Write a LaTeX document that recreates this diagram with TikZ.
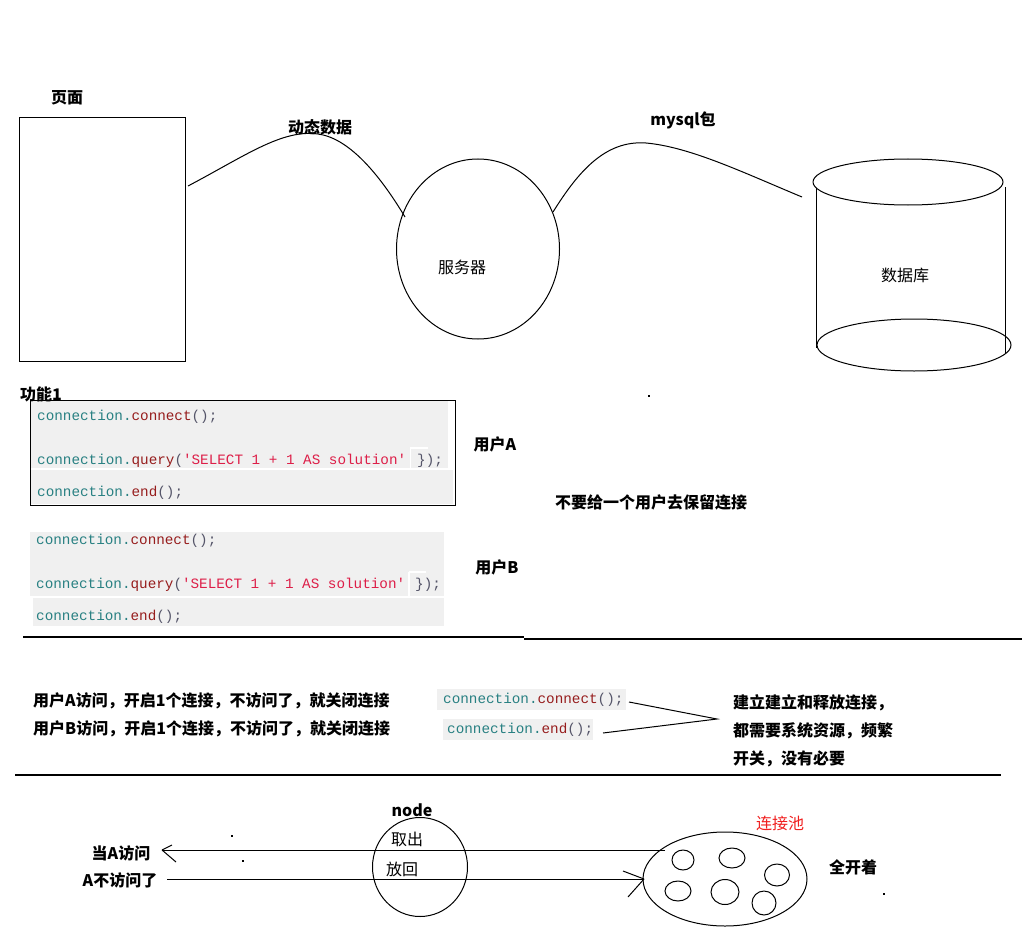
\documentclass[tikz,border=0pt]{standalone}
\usepackage{fontspec}
\setmonofont{Liberation Mono}
\newfontfamily\cjk{Noto Sans CJK SC}
\usetikzlibrary{shapes.geometric}

\definecolor{codebg}{RGB}{240,240,240}
\definecolor{codeid}{RGB}{40,128,130}
\definecolor{codefn}{RGB}{150,28,28}
\definecolor{codepu}{RGB}{85,85,105}
\definecolor{codestr}{RGB}{221,30,72}
\definecolor{poolred}{RGB}{240,30,30}

\newcommand\cdid[1]{\textcolor{codeid}{#1}}
\newcommand\cdfn[1]{\textcolor{codefn}{#1}}
\newcommand\cdpu[1]{\textcolor{codepu}{#1}}
\newcommand\cdstr[1]{\textcolor{codestr}{#1}}

\tikzset{
  lbl/.style={font=\cjk\fontsize{16}{18}\selectfont, inner sep=0pt},
  blbl/.style={font=\cjk\bfseries\fontsize{16}{18}\selectfont, inner sep=0pt},
  codetxt/.style={font=\ttfamily\fontsize{14.3}{16}\selectfont, inner sep=0pt, anchor=base west},
  stroke/.style={draw=black, line width=1pt},
  rule/.style={draw=black, line width=1.4pt},
  gap/.style={draw=white, line width=1.6pt},
  speck/.style={fill=black},
}

\begin{document}
\begin{tikzpicture}[x=1pt,y=-1pt]
\useasboundingbox (0,0) rectangle (1024,944);

% ---------- page / server / database ----------
\node[blbl] (pagelbl) at (67,98) {页面};
\node[stroke, rectangle, minimum width=166pt, minimum height=243pt, inner sep=0pt] (page) at (102,239.5) {};

\node[stroke, ellipse, minimum width=163pt, minimum height=180pt, inner sep=0pt] (server) at (478,249) {};
\node[lbl] (serverlbl) at (462,267) {服务器};

% database cylinder
\draw[stroke] (908,182) ellipse [x radius=95, y radius=23];
\draw[stroke] (914,345) ellipse [x radius=97, y radius=26];
\draw[stroke] (816,188) -- (816,348);
\draw[stroke] (1005,187) -- (1005,353);
\node[lbl] (dblbl) at (905,275) {数据库};

% connectors
\coordinate (c1s) at (188,186);
\coordinate (c1p) at (318,134);
\coordinate (c1e) at (405,217);
\draw[stroke] (c1s) .. controls (245,156) and (282,129) .. (c1p)
                    .. controls (348,138) and (378,172) .. (c1e);
\node[blbl] (dyn) at (320,127) {动态数据};

\coordinate (c2s) at (553,212);
\coordinate (c2p) at (646,143);
\coordinate (c2e) at (802,197);
\draw[stroke] (c2s) .. controls (578,172) and (605,140) .. (c2p)
                    .. controls (690,147) and (742,172) .. (c2e);
\node[blbl] (mysql) at (683,120) {mysql包};

\fill[speck] (648,395) rectangle (650,397);

% ---------- code block, user A ----------
\fill[codebg] (31,401) rectangle (448,468);
\fill[codebg] (31,470) rectangle (453,504);
\draw[gap] (410.5,448) -- (410.5,468);
\draw[gap] (410,448) -- (428,448);
\draw[gap] (45,469) -- (448,469);
\draw[stroke] (30,400) rectangle (455,505);
\node[blbl] (feat) at (41,394) {功能1};

\node[codetxt] (a1) at (37,420.5) {\cdid{connection.}\cdfn{connect}\cdpu{();}};
\node[codetxt] (a2) at (37,464.5) {\cdid{connection.}\cdfn{query}\cdpu{(}\cdstr{'SELECT 1 + 1 AS solution'}};
\node[codetxt] (a2b) at (417,464.5) {\cdpu{\});}};
\node[codetxt] (a3) at (37,496.5) {\cdid{connection.}\cdfn{end}\cdpu{();}};
\node[blbl] (usera) at (495,444) {用户A};

% ---------- code block, user B ----------
\fill[codebg] (30,532) rectangle (444,596);
\fill[codebg] (33,598) rectangle (444,626);
\draw[gap] (409,572) -- (409,596);
\draw[gap] (409,572) -- (426,572);
\node[codetxt] (b1) at (36,544.5) {\cdid{connection.}\cdfn{connect}\cdpu{();}};
\node[codetxt] (b2) at (36,588.5) {\cdid{connection.}\cdfn{query}\cdpu{(}\cdstr{'SELECT 1 + 1 AS solution'}};
\node[codetxt] (b2b) at (415,588.5) {\cdpu{\});}};
\node[codetxt] (b3) at (36,620.5) {\cdid{connection.}\cdfn{end}\cdpu{();}};
\node[blbl] (userb) at (497,567) {用户B};

\node[blbl] (keep) at (651,502) {不要给一个用户去保留连接};

% section rules
\draw[rule] (23,637) -- (524,637);
\draw[rule] (524,639) -- (1022,639);
\draw[rule] (15,775) -- (1001,775);

% ---------- open / close per visit ----------
\node[blbl, anchor=west] (pa) at (33,701) {用户A访问，开启1个连接，不访问了，就关闭连接};
\node[blbl, anchor=west] (pb) at (33,729) {用户B访问，开启1个连接，不访问了，就关闭连接};

\fill[codebg] (437,689) rectangle (626,710);
\node[codetxt] (s1) at (443,703.5) {\cdid{connection.}\cdfn{connect}\cdpu{();}};
\fill[codebg] (443,719) rectangle (593,740);
\node[codetxt] (s2) at (447,733.5) {\cdid{connection.}\cdfn{end}\cdpu{();}};

\coordinate (s1e) at (629,702);
\coordinate (s2e) at (603,733);
\coordinate (tip) at (717,719);
\draw[stroke] (s1e) -- (tip) -- (s2e);

\node[blbl, anchor=west] (r1) at (733,703) {建立建立和释放连接，};
\node[blbl, anchor=west] (r2) at (733,731) {都需要系统资源，频繁};
\node[blbl, anchor=west] (r3) at (733,759) {开关，没有必要};

% ---------- connection pool ----------
\node[blbl] (nodelbl) at (412,810) {node};
\node[stroke, ellipse, minimum width=95pt, minimum height=99pt, inner sep=0pt] (srv) at (420,867) {};
\node[lbl] (take) at (407,839) {取出};
\node[lbl] (back) at (402,869) {放回};

\node[blbl] (qa) at (121,853) {当A访问};
\node[blbl] (qb) at (120,880) {A不访问了};

\node[stroke, ellipse, minimum width=164pt, minimum height=94pt, inner sep=0pt] (pool) at (725,879) {};
\draw[stroke] (683,860) ellipse [x radius=11, y radius=10];
\draw[stroke] (732,858) ellipse [x radius=13, y radius=10];
\draw[stroke] (777,875) ellipse [x radius=12.5, y radius=11];
\draw[stroke] (678,891) ellipse [x radius=13, y radius=10];
\draw[stroke] (725,892) ellipse [x radius=14, y radius=12.5];
\draw[stroke] (764,903) ellipse [x radius=12, y radius=12];
\node[lbl, text=poolred] (poollbl) at (780,823) {连接池};
\node[blbl] (allopen) at (853,867) {全开着};

% take: pool -> user
\coordinate (ua) at (665,850);
\coordinate (ub) at (162,850);
\draw[stroke] (ua) -- (ub);
\draw[stroke] (ub) -- ++(10,-5);
\draw[stroke] (ub) -- ++(14,12);

% return: user -> pool
\coordinate (la) at (167,879);
\coordinate (lb) at (644,879);
\draw[stroke] (la) -- (lb);
\draw[stroke] (lb) -- ++(-21,-8);
\draw[stroke] (lb) -- ++(-16,18);

\fill[speck] (231,835) rectangle (233,837);
\fill[speck] (242,860) rectangle (244,862);
\fill[speck] (883,893) rectangle (885,895);
\end{tikzpicture}
\end{document}
